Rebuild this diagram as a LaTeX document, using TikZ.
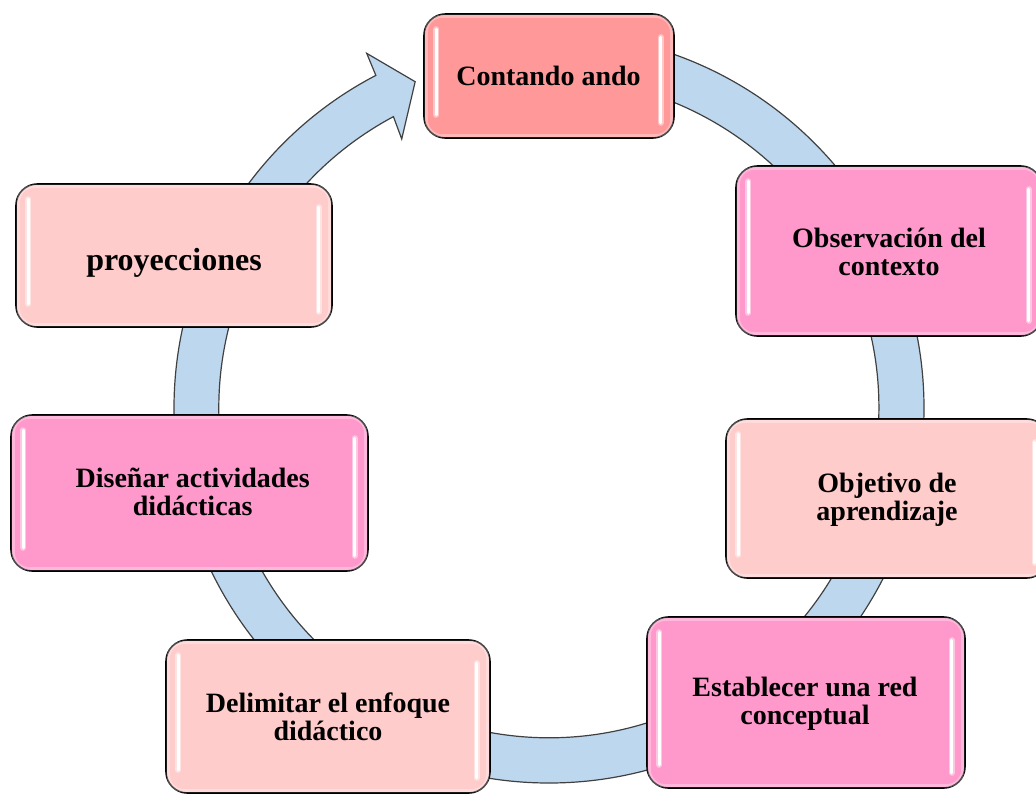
\documentclass[tikz,border=0pt]{standalone}
\usepackage{fontspec}
\setmainfont{Liberation Serif}
\usetikzlibrary{calc}
\definecolor{ringfill}{HTML}{BDD7EE}
\definecolor{ringline}{HTML}{404040}
\definecolor{salmon}{HTML}{FF9999}
\definecolor{pinkA}{HTML}{FF99CC}
\definecolor{pinkB}{HTML}{FFCCCC}
\newcommand\boxfont{\fontsize{21}{21}\selectfont\bfseries\lineskiplimit=-10pt\relax}
\newcommand\bigboxfont{\fontsize{24}{24}\selectfont\bfseries\lineskiplimit=-10pt\relax}
\newcommand\glossbox[1]{%
  \draw[white, opacity=0.3, line width=2.5pt, rounded corners=12pt]
    ($(#1.north west)+(3,3)$) rectangle ($(#1.south east)+(-3,-3)$);
  \draw[white, line width=4.5pt, line cap=round, opacity=0.45]
    ($(#1.north west)+(13,16)$) -- ($(#1.south west)+(13,-24)$);
  \draw[white, line width=4.5pt, line cap=round, opacity=0.45]
    ($(#1.north east)+(-14,24)$) -- ($(#1.south east)+(-14,-16)$);
  \draw[white, line width=2pt, line cap=round]
    ($(#1.north west)+(13,16)$) -- ($(#1.south west)+(13,-24)$);
  \draw[white, line width=2pt, line cap=round]
    ($(#1.north east)+(-14,24)$) -- ($(#1.south east)+(-14,-16)$);
}
\begin{document}
\begin{tikzpicture}[x=0.75pt,y=-0.75pt,
  stepbox/.style={draw=black, line width=1.2pt, rounded corners=16pt, inner sep=0pt},
  label/.style={inner sep=0pt, align=center, font=\boxfont, text=black}]
\useasboundingbox (0,0) rectangle (1036,794);

% circular arrow
\coordinate (rc) at (549,408);
\begin{scope}[shift={(rc)}, y=0.75pt]
  \filldraw[fill=ringfill, draw=ringline, line width=0.9pt, line join=miter]
    (90:375) arc[start angle=90, end angle=-242.5, radius=375]
    -- (-242.8:398.8) -- (-247.7:352.7) -- (-241.3:306.7) -- (-241.9:330.3)
    arc[start angle=-241.9, end angle=90, radius=330] -- cycle;
\end{scope}

% boxes
\node[stepbox, fill=salmon, minimum width=250*0.75pt, minimum height=124*0.75pt] (b1) at (549,76) {};
\node[stepbox, fill=pinkA,  minimum width=306*0.75pt, minimum height=170*0.75pt] (b2) at (889,251) {};
\node[stepbox, fill=pinkB,  minimum width=322*0.75pt, minimum height=159*0.75pt] (b3) at (887,498.5) {};
\node[stepbox, fill=pinkA,  minimum width=318*0.75pt, minimum height=171*0.75pt] (b4) at (806,702.5) {};
\node[stepbox, fill=pinkB,  minimum width=324*0.75pt, minimum height=153*0.75pt] (b5) at (328,716.5) {};
\node[stepbox, fill=pinkA,  minimum width=357*0.75pt, minimum height=156*0.75pt] (b6) at (189.5,493) {};
\node[stepbox, fill=pinkB,  minimum width=316*0.75pt, minimum height=143*0.75pt] (b7) at (174,255.5) {};

\foreach \b in {b1,b2,b3,b4,b5,b6,b7} {\glossbox{\b}}

% texts
\node[label] (t1) at (548.5,79.4) {\strut Contando ando};
\node[label] (t2) at (889,255.4) {\strut Observación del\\\strut contexto};
\node[label] (t3) at (887,500.4) {\strut Objetivo de\\\strut aprendizaje};
\node[label] (t4) at (805,704.4) {\strut Establecer una red\\\strut conceptual};
\node[label] (t5) at (328,720.4) {\strut Delimitar el enfoque\\\strut didáctico};
\node[label] (t6) at (192.7,495.4) {\strut Diseñar actividades\\\strut didácticas};
\node[label, font=\bigboxfont] (t7) at (174,263.7) {\strut proyecciones};
\end{tikzpicture}
\end{document}
